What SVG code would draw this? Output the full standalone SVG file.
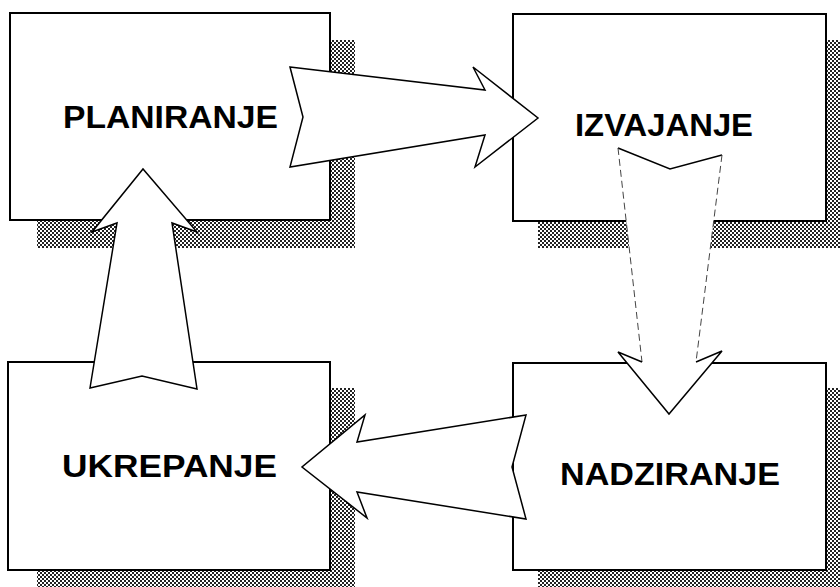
<svg xmlns="http://www.w3.org/2000/svg" width="840" height="587" viewBox="0 0 840 587">
<defs>
<pattern id="dots" width="4" height="4" patternUnits="userSpaceOnUse">
<rect width="4" height="4" fill="#fff"/>
<rect x="0" y="0" width="2" height="2" fill="#222"/>
<rect x="2" y="2" width="2" height="2" fill="#222"/>
</pattern>
</defs>
<style>
.shadow{fill:url(#dots);stroke:none}
.box{fill:#fff;stroke:#000;stroke-width:2}
.lbl{font-family:"Liberation Sans",Arial,sans-serif;font-weight:bold;font-size:31px;fill:#000}
.arrow{fill:#fff;stroke:#000;stroke-width:1.5;stroke-linejoin:miter}
.faint{fill:none;stroke:#444;stroke-width:1;stroke-dasharray:7 4}
</style>
<rect width="840" height="587" fill="#fff"/>
<g id="node-planiranje">
<rect class="shadow" x="37" y="40" width="318" height="208"/>
<rect class="box" x="10" y="13" width="320" height="207"/>
<text class="lbl" x="63" y="128" textLength="215" lengthAdjust="spacingAndGlyphs">PLANIRANJE</text>
</g>
<g id="node-izvajanje">
<rect class="shadow" x="538" y="40" width="313" height="208"/>
<rect class="box" x="513" y="14" width="313" height="207"/>
<text class="lbl" x="575" y="136" textLength="178" lengthAdjust="spacingAndGlyphs">IZVAJANJE</text>
</g>
<g id="node-ukrepanje">
<rect class="shadow" x="37" y="388" width="318" height="209"/>
<rect class="box" x="8" y="362" width="322" height="208"/>
<text class="lbl" x="62" y="477" textLength="215" lengthAdjust="spacingAndGlyphs">UKREPANJE</text>
</g>
<g id="node-nadziranje">
<rect class="shadow" x="538" y="388" width="313" height="209"/>
<rect class="box" x="513" y="363" width="313" height="207"/>
<text class="lbl" x="560" y="485" textLength="220" lengthAdjust="spacingAndGlyphs">NADZIRANJE</text>
</g>
<g id="connectors">
<polygon class="arrow" points="290,67 485,90 473,67 538,118 475,167 485,135 290,167 303,117"/>
<polygon points="618,148 670,169 722,155 696,362 722,351 669,414 618,352 642,362" fill="#fff" stroke="none"/>
<polyline points="618,148 670,169 722,155" fill="none" stroke="#000" stroke-width="1.5"/>
<line class="faint" x1="618" y1="148" x2="642" y2="362"/>
<line class="faint" x1="722" y1="155" x2="696" y2="362"/>
<polyline points="642,362 618,352 669,414 722,351 696,362" fill="none" stroke="#000" stroke-width="1.5"/>
<polygon class="arrow" points="526,415 357,442 365,415 302,467 367,518 357,492 526,519 512,467"/>
<polygon class="arrow" points="90,388 117,223 92,232 143,169 197,232 172,223 197,389 142,376"/>
</g>
</svg>
